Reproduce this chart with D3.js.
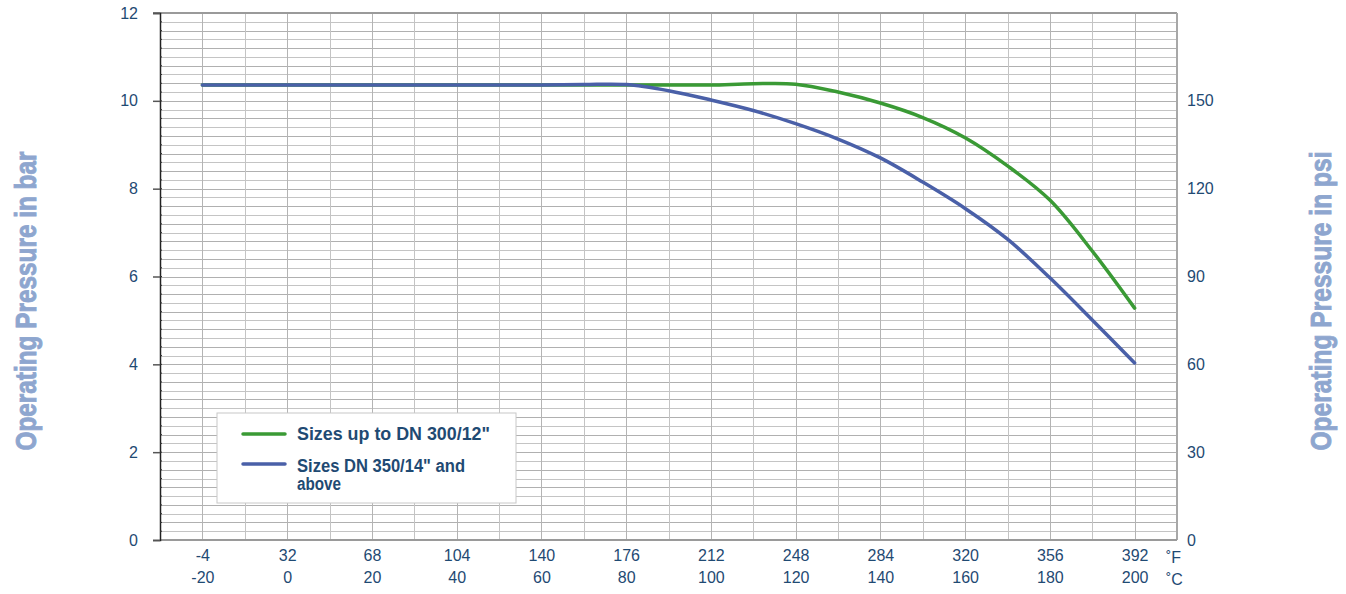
<!DOCTYPE html>
<html><head><meta charset="utf-8">
<script src="https://cdn.jsdelivr.net/npm/d3@7/dist/d3.min.js"></script>
<style>body{margin:0;background:#fff}svg{display:block}</style>
</head><body><svg id="c" width="1346" height="594"></svg>
<script>
const tempC = [-20,-10,0,10,20,30,40,50,60,70,80,90,100,110,120,130,140,150,160,170,180,190,200];
const greenBar = [10.36,10.36,10.36,10.36,10.36,10.36,10.36,10.36,10.36,10.36,10.36,10.36,10.36,10.39,10.38,10.2,9.95,9.62,9.16,8.52,7.74,6.58,5.28];
const blueBar  = [10.36,10.36,10.36,10.36,10.36,10.36,10.36,10.36,10.36,10.37,10.37,10.23,10.02,9.78,9.48,9.13,8.7,8.15,7.55,6.85,5.97,5.01,4.03];
const xTicksC = [-20,0,20,40,60,80,100,120,140,160,180,200];
const xTicksF = ["-4","32","68","104","140","176","212","248","284","320","356","392"];
const yTicksBar = [0,2,4,6,8,10,12];
const yTicksPsi = [0,30,60,90,120,150];
const seriesNames = ["Sizes up to DN 300/12\"", "Sizes DN 350/14\" and above"];
const colors = ["#3a9a35","#4a60a8"];

const svg = d3.select("#c");
const L=160,R=1177,T=13,B=540;
const x = d3.scaleLinear().domain([-30,210]).range([L,R]);
const y = d3.scaleLinear().domain([0,12]).range([B,T]);
const yP = d3.scaleLinear().domain([0,180]).range([B,T]);
const font = "'Liberation Sans','Arimo',Arial,sans-serif";
const txt = "#1f4a73";

// grid
const g = svg.append("g");
g.selectAll("line.h").data(d3.range(1,60)).join("line")
 .attr("x1",L).attr("x2",R).attr("y1",d=>Math.round(y(d*0.2))+0.5).attr("y2",d=>Math.round(y(d*0.2))+0.5)
 .attr("stroke",d=>d%2?"#c4c4c4":"#b0b0b0").attr("stroke-width",1);
g.selectAll("line.v").data(d3.range(-20,210,10)).join("line")
 .attr("y1",T).attr("y2",B).attr("x1",d=>Math.round(x(d))+0.5).attr("x2",d=>Math.round(x(d))+0.5)
 .attr("stroke",(d,i)=>i%2?"#c4c4c4":"#b4b4b4").attr("stroke-width",1);
// frame
svg.append("line").attr("x1",153).attr("x2",R).attr("y1",T).attr("y2",T).attr("stroke","#9a9a9a").attr("stroke-width",2);
svg.append("line").attr("x1",R).attr("x2",R).attr("y1",T).attr("y2",B).attr("stroke","#a8a8a8").attr("stroke-width",2);
svg.append("line").attr("x1",L).attr("x2",R).attr("y1",B).attr("y2",B).attr("stroke","#9a9a9a").attr("stroke-width",2);

// left axis
const ya = svg.append("g").attr("transform",`translate(${L},0)`)
 .call(d3.axisLeft(y).tickValues(yTicksBar).tickSize(7).tickPadding(15).tickFormat(d=>String(d)));
ya.select(".domain").attr("stroke","#222").attr("stroke-width",1.5);
ya.selectAll(".tick line").attr("stroke","#555").attr("stroke-width",1.5);
ya.selectAll("text").attr("font-family",font).attr("font-size",16).attr("fill",txt);
// minor ticks
svg.append("g").selectAll("line").data(d3.range(1,60)).join("line")
 .attr("x1",L).attr("x2",L+2).attr("y1",d=>y(d*0.2)).attr("y2",d=>y(d*0.2)).attr("stroke","#333");

// right axis labels
const yr = svg.append("g").attr("transform",`translate(${R},0)`)
 .call(d3.axisRight(yP).tickValues(yTicksPsi).tickSize(0).tickPadding(10).tickFormat(d=>String(d)));
yr.select(".domain").remove();
yr.selectAll("text").attr("font-family",font).attr("font-size",16).attr("fill",txt);

// x axis labels
const xa = svg.append("g").attr("transform",`translate(0,${B})`)
 .call(d3.axisBottom(x).tickValues(xTicksC).tickSize(0).tickPadding(10).tickFormat((d,i)=>xTicksF[i]));
xa.select(".domain").remove();
xa.selectAll("text").attr("font-family",font).attr("font-size",16).attr("fill",txt);
const xa2 = svg.append("g").attr("transform",`translate(0,${B+22})`)
 .call(d3.axisBottom(x).tickValues(xTicksC).tickSize(0).tickPadding(10).tickFormat(d=>String(d)));
xa2.select(".domain").remove();
xa2.selectAll("text").attr("font-family",font).attr("font-size",16).attr("fill",txt);
svg.append("text").attr("x",1166).attr("y",563).text("˚F").attr("font-family",font).attr("font-size",16).attr("fill",txt);
svg.append("text").attr("x",1166).attr("y",585).text("˚C").attr("font-family",font).attr("font-size",16).attr("fill",txt);

// axis titles
const title = (t,cx)=>svg.append("text").attr("transform",`translate(${cx},301) rotate(-90)`).attr("text-anchor","middle")
 .attr("font-family",font).attr("font-weight","bold").attr("font-size",30).attr("fill","#8ea6cf")
 .attr("stroke","#8ea6cf").attr("stroke-width",0.9)
 .attr("textLength",299).attr("lengthAdjust","spacingAndGlyphs").text(t);
title("Operating Pressure in bar",36);
title("Operating Pressure in psi",1331);

// lines
const line = d3.line().x(d=>x(d[0])).y(d=>y(d[1])).curve(d3.curveCatmullRom.alpha(0.5));
[greenBar,blueBar].forEach((s,i)=>{
  svg.append("path").datum(tempC.map((t,j)=>[t,s[j]])).attr("d",line)
   .attr("fill","none").attr("stroke",colors[i]).attr("stroke-width",3.5).attr("stroke-linecap","round");
});

// legend
const lg = svg.append("g");
lg.append("rect").attr("x",217).attr("y",413).attr("width",299).attr("height",90).attr("fill","#fff").attr("stroke","#c8c8c8");
[434,464].forEach((p,i)=>{
  lg.append("line").attr("x1",243).attr("x2",285).attr("y1",p).attr("y2",p).attr("stroke",colors[i]).attr("stroke-width",3.5).attr("stroke-linecap","round");
});
const lt = (t,yy,w)=>lg.append("text").attr("x",297).attr("y",yy).text(t).attr("font-family",font).attr("font-weight","bold").attr("font-size",17.5).attr("fill",txt)
 .attr("textLength",w).attr("lengthAdjust","spacingAndGlyphs");
lt(seriesNames[0],439.5,193);
lt("Sizes DN 350/14\" and",471.5,168);
lt("above",489.5,44);
</script></body></html>
